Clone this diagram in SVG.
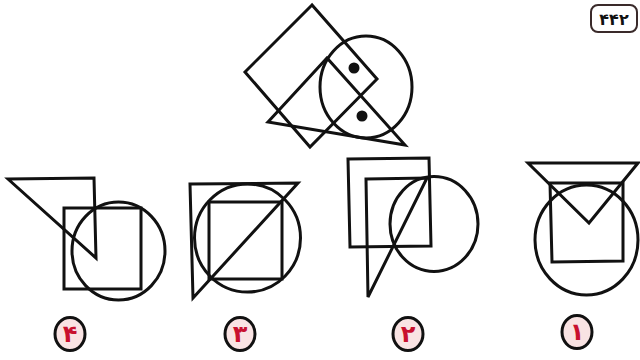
<svg xmlns="http://www.w3.org/2000/svg" width="640" height="360" viewBox="0 0 640 360">
<style>
.s{fill:none;stroke:#111;stroke-width:3;stroke-linejoin:miter}
.dot{fill:#111}
.lab{fill:#f9e3e3;stroke:#111;stroke-width:3}
.num{font-family:"DejaVu Sans",sans-serif;font-weight:bold;font-size:24px;fill:#c8102e;text-anchor:middle}
.pg{font-family:"DejaVu Sans",sans-serif;font-weight:bold;font-size:16px;fill:#111;text-anchor:middle}
</style>
<rect width="640" height="360" fill="#fff"/>
<g id="page">
<rect x="591" y="5" width="46" height="27" rx="7" fill="#fff" stroke="#3a2a2a" stroke-width="2"/>
<text class="pg" x="614" y="25">۴۴۲</text>
</g>
<g id="question">
<polygon class="s" points="312,5 245,72 310,147 377,79"/>
<ellipse class="s" cx="366" cy="87" rx="46" ry="51"/>
<polygon class="s" points="268,122 327,58 405,145"/>
<circle class="dot" cx="354" cy="68" r="5.5"/>
<circle class="dot" cx="362" cy="116" r="5.5"/>
</g>
<g id="option4">
<polygon class="s" points="8,179 94,178 96,258"/>
<rect class="s" x="64" y="208" width="77" height="81"/>
<ellipse class="s" cx="118.5" cy="251" rx="46.5" ry="49"/>
</g>
<g id="option3">
<polygon class="s" points="190,184 298,183 193,298"/>
<rect class="s" x="209" y="202" width="73" height="77"/>
<ellipse class="s" cx="247.5" cy="238" rx="53" ry="54"/>
</g>
<g id="option2">
<polygon class="s" points="348,159 429,158 431,246 350,247"/>
<polygon class="s" points="366,179 427,178 368,297"/>
<ellipse class="s" cx="434" cy="224" rx="44" ry="47.5"/>
</g>
<g id="option1">
<polygon class="s" points="528,163 638,163 589,223"/>
<polygon class="s" points="550,183 623,183 623,261 552,262"/>
<ellipse class="s" cx="586.5" cy="240" rx="51.5" ry="55"/>
</g>
<g id="labels">
<ellipse class="lab" cx="70" cy="334" rx="15" ry="16.5"/>
<text class="num" x="70" y="342">۴</text>
<ellipse class="lab" cx="240" cy="334" rx="15" ry="16.5"/>
<text class="num" x="240" y="342">۳</text>
<ellipse class="lab" cx="408" cy="334" rx="15" ry="16.5"/>
<text class="num" x="408" y="342">۲</text>
<ellipse class="lab" cx="577" cy="332" rx="15" ry="16.5"/>
<text class="num" x="577" y="340">۱</text>
</g>
</svg>
